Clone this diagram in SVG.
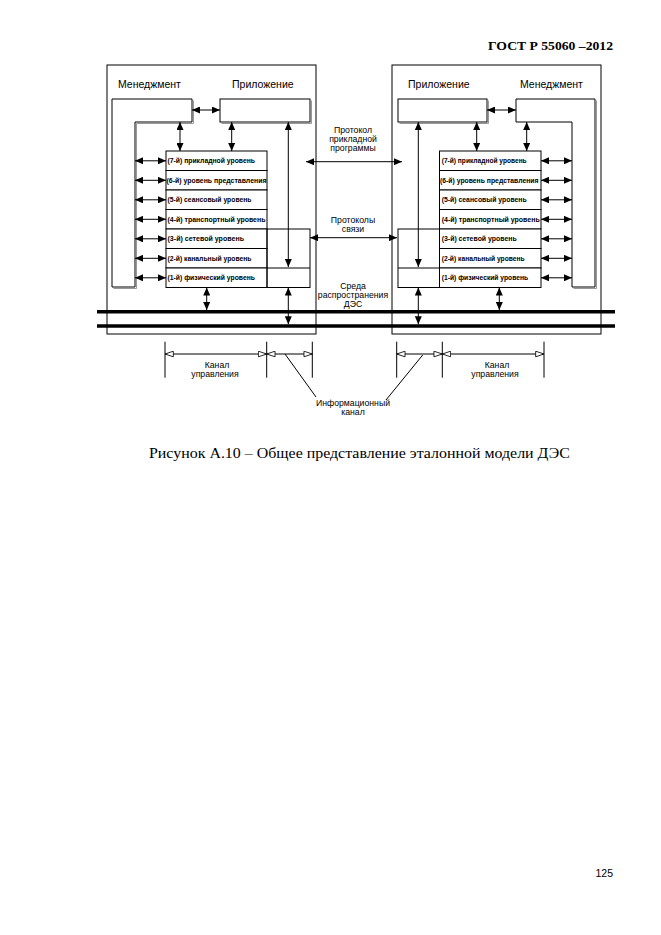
<svg xmlns="http://www.w3.org/2000/svg" width="661" height="935" viewBox="0 0 661 935">
<style>
.ln{fill:none;stroke:#000;stroke-width:1}
.bx{fill:#fff;stroke:#000;stroke-width:1}
.sh{fill:none;stroke:#999;stroke-width:1}
.da{fill:none;stroke:#000;stroke-width:1;marker-start:url(#f);marker-end:url(#f)}
.oa{fill:none;stroke:#000;stroke-width:1;marker-start:url(#o);marker-end:url(#o)}
.thick{stroke:#000;stroke-width:3.4}
.t{font-family:"Liberation Sans",Arial,sans-serif;fill:#000}
.h{font-size:10.5px}
.m{font-size:8.7px;text-anchor:middle}
.l{font-size:6.6px;font-weight:bold}
</style>
<defs>
<marker id="f" viewBox="0 0 10 10" refX="10" refY="5" markerWidth="8" markerHeight="7" markerUnits="userSpaceOnUse" preserveAspectRatio="none" orient="auto-start-reverse"><path d="M0,0 L10,5 L0,10 z" fill="#000"/></marker>
<marker id="o" viewBox="0 0 12 10" refX="11" refY="5" markerWidth="10" markerHeight="7" markerUnits="userSpaceOnUse" preserveAspectRatio="none" orient="auto-start-reverse"><path d="M1,1 L11,5 L1,9 z" fill="#fff" stroke="#000" stroke-width="1.1"/></marker>
</defs>
<rect x="0" y="0" width="661" height="935" fill="#fff"/>
<text class="t" x="613" y="50" text-anchor="end" style="font-family:'Liberation Serif','Times New Roman',serif;font-size:13px;font-weight:bold" textLength="125" lengthAdjust="spacingAndGlyphs">ГОСТ Р  55060 –2012</text>

<g id="frame-left">
<rect class="ln" x="107" y="65" width="209" height="269"/>
</g>
<g id="frame-right">
<rect class="ln" x="392" y="65" width="209" height="269"/>
</g>

<g id="mgmt-left">
<polyline class="sh" points="193.5,100.5 193.5,123.5 136.5,123.5 136.5,288.5 113.5,288.5"/>
<polygon class="bx" points="112,99 192,99 192,122 135,122 135,287 112,287"/>
<text class="t h" x="118" y="88">Менеджмент</text>
</g>
<g id="app-left">
<rect class="bx" x="220" y="99" width="90" height="23"/>
<polyline class="sh" points="311.5,100.5 311.5,123.5 221.5,123.5"/>
<text class="t h" x="232" y="88">Приложение</text>
</g>
<g id="layers-left">
<rect class="bx" x="166" y="151" width="101" height="19.5"/>
<rect class="bx" x="166" y="170.5" width="101" height="19.5"/>
<rect class="bx" x="166" y="190" width="101" height="19.5"/>
<rect class="bx" x="166" y="209.5" width="101" height="19.5"/>
<rect class="bx" x="166" y="229" width="101" height="19.5"/>
<rect class="bx" x="166" y="248.5" width="101" height="19.5"/>
<rect class="bx" x="166" y="268" width="101" height="19.5"/>
<text class="t l" x="167.5" y="163" textLength="87.5" lengthAdjust="spacingAndGlyphs">(7-й) прикладной уровень</text>
<text class="t l" x="166.5" y="182.5" textLength="100" lengthAdjust="spacingAndGlyphs">(6-й) уровень представления</text>
<text class="t l" x="167.5" y="202" textLength="84" lengthAdjust="spacingAndGlyphs">(5-й) сеансовый уровень</text>
<text class="t l" x="167.5" y="221.5" textLength="98" lengthAdjust="spacingAndGlyphs">(4-й) транспортный уровень</text>
<text class="t l" x="167.5" y="241" textLength="76.5" lengthAdjust="spacingAndGlyphs">(3-й) сетевой уровень</text>
<text class="t l" x="167.5" y="260.5" textLength="84" lengthAdjust="spacingAndGlyphs">(2-й) канальный уровень</text>
<text class="t l" x="167.5" y="280" textLength="87.5" lengthAdjust="spacingAndGlyphs">(1-й) физический уровень</text>
</g>
<g id="ext-left">
<rect class="ln" x="267" y="229" width="43" height="58.5"/>
<line class="ln" x1="267" y1="268" x2="310" y2="268"/>
</g>

<g id="app-right">
<rect class="bx" x="398" y="99" width="89" height="23"/>
<polyline class="sh" points="488.5,100.5 488.5,123.5 399.5,123.5"/>
<text class="t h" x="408" y="88">Приложение</text>
</g>
<g id="mgmt-right">
<polyline class="sh" points="596.5,100.5 596.5,288.5 573.5,288.5"/>
<polygon class="bx" points="516,99 595,99 595,287 572,287 572,122 516,122"/>
<text class="t h" x="520" y="88">Менеджмент</text>
</g>
<g id="layers-right">
<rect class="bx" x="439.5" y="151" width="101.5" height="19.5"/>
<rect class="bx" x="439.5" y="170.5" width="101.5" height="19.5"/>
<rect class="bx" x="439.5" y="190" width="101.5" height="19.5"/>
<rect class="bx" x="439.5" y="209.5" width="101.5" height="19.5"/>
<rect class="bx" x="439.5" y="229" width="101.5" height="19.5"/>
<rect class="bx" x="439.5" y="248.5" width="101.5" height="19.5"/>
<rect class="bx" x="439.5" y="268" width="101.5" height="19.5"/>
<text class="t l" x="441.7" y="163" textLength="85" lengthAdjust="spacingAndGlyphs">(7-й) прикладной уровень</text>
<text class="t l" x="440" y="182.5" textLength="98.5" lengthAdjust="spacingAndGlyphs">(6-й) уровень представления</text>
<text class="t l" x="441.7" y="202" textLength="85" lengthAdjust="spacingAndGlyphs">(5-й) сеансовый уровень</text>
<text class="t l" x="441.7" y="221.5" textLength="98" lengthAdjust="spacingAndGlyphs">(4-й) транспортный уровень</text>
<text class="t l" x="441.7" y="241" textLength="75" lengthAdjust="spacingAndGlyphs">(3-й) сетевой уровень</text>
<text class="t l" x="441.7" y="260.5" textLength="83" lengthAdjust="spacingAndGlyphs">(2-й) канальный уровень</text>
<text class="t l" x="441.7" y="280" textLength="86.5" lengthAdjust="spacingAndGlyphs">(1-й) физический уровень</text>
</g>
<g id="ext-right">
<rect class="ln" x="398" y="229" width="41.5" height="58.5"/>
<line class="ln" x1="398" y1="268" x2="439.5" y2="268"/>
</g>

<g id="media">
<line class="thick" x1="97" y1="311.7" x2="615" y2="311.7"/>
<line class="thick" x1="97" y1="326" x2="615" y2="326"/>
</g>

<g id="labels-middle">
<text class="t m" x="353" y="133">Протокол</text>
<text class="t m" x="353" y="142">прикладной</text>
<text class="t m" x="353" y="151">программы</text>
<text class="t m" x="353" y="223">Протоколы</text>
<text class="t m" x="353" y="232">связи</text>
<text class="t m" x="353" y="289">Среда</text>
<text class="t m" x="353" y="298">распространения</text>
<text class="t m" x="353" y="306.5">ДЭС</text>
</g>

<g id="connectors">
<line class="da" x1="192" y1="110" x2="220" y2="110"/>
<line class="da" x1="180" y1="122" x2="180" y2="151"/>
<line class="da" x1="231.7" y1="122" x2="231.7" y2="151"/>
<line class="da" x1="288.3" y1="122" x2="288.3" y2="267"/>
<line class="da" x1="135" y1="160.8" x2="166" y2="160.8"/>
<line class="da" x1="135" y1="180.3" x2="166" y2="180.3"/>
<line class="da" x1="135" y1="199.8" x2="166" y2="199.8"/>
<line class="da" x1="135" y1="219.3" x2="166" y2="219.3"/>
<line class="da" x1="135" y1="238.8" x2="166" y2="238.8"/>
<line class="da" x1="135" y1="258.3" x2="166" y2="258.3"/>
<line class="da" x1="135" y1="277.8" x2="166" y2="277.8"/>
<line class="da" x1="206.7" y1="287.5" x2="206.7" y2="310"/>
<line class="da" x1="288.3" y1="287.5" x2="288.3" y2="324.3"/>
<line class="da" x1="306" y1="161.7" x2="402" y2="161.7"/>
<line class="da" x1="310" y1="237.7" x2="397" y2="237.7"/>
<line class="da" x1="487" y1="110" x2="516" y2="110"/>
<line class="da" x1="476.7" y1="122" x2="476.7" y2="151"/>
<line class="da" x1="526.7" y1="122" x2="526.7" y2="151"/>
<line class="da" x1="418.3" y1="122" x2="418.3" y2="267"/>
<line class="da" x1="541" y1="160.8" x2="572" y2="160.8"/>
<line class="da" x1="541" y1="180.3" x2="572" y2="180.3"/>
<line class="da" x1="541" y1="199.8" x2="572" y2="199.8"/>
<line class="da" x1="541" y1="219.3" x2="572" y2="219.3"/>
<line class="da" x1="541" y1="238.8" x2="572" y2="238.8"/>
<line class="da" x1="541" y1="258.3" x2="572" y2="258.3"/>
<line class="da" x1="541" y1="277.8" x2="572" y2="277.8"/>
<line class="da" x1="418.3" y1="287.5" x2="418.3" y2="324.3"/>
<line class="da" x1="499.3" y1="287.5" x2="499.3" y2="310"/>
<line class="ln" x1="165" y1="341.7" x2="165" y2="377.7"/>
<line class="ln" x1="266.7" y1="341.7" x2="266.7" y2="377.7"/>
<line class="ln" x1="312.3" y1="341.7" x2="312.3" y2="377.7"/>
<line class="oa" x1="165" y1="354" x2="266.7" y2="354"/>
<line class="oa" x1="266.7" y1="354" x2="312.3" y2="354"/>
<line class="ln" x1="396.7" y1="341.7" x2="396.7" y2="377.7"/>
<line class="ln" x1="442.3" y1="341.7" x2="442.3" y2="377.7"/>
<line class="ln" x1="544" y1="341.7" x2="544" y2="377.7"/>
<line class="oa" x1="396.7" y1="354" x2="442.3" y2="354"/>
<line class="oa" x1="442.3" y1="354" x2="544" y2="354"/>
<line class="ln" x1="285" y1="354" x2="316" y2="397"/>
<line class="ln" x1="422.7" y1="355" x2="386" y2="400"/>
</g>

<g id="labels-channels">
<text class="t m" x="217" y="368">Канал</text>
<text class="t m" x="215" y="377">управления</text>
<text class="t m" x="497" y="368">Канал</text>
<text class="t m" x="495" y="377">управления</text>
<text class="t m" x="353" y="406">Информационный</text>
<text class="t m" x="353" y="415">канал</text>
</g>

<text class="t" x="149" y="458" style="font-family:'Liberation Serif','Times New Roman',serif;font-size:14.5px" textLength="421" lengthAdjust="spacingAndGlyphs">Рисунок А.10 – Общее представление эталонной модели ДЭС</text>
<text class="t" x="613" y="877" text-anchor="end" style="font-size:10.5px">125</text>
</svg>
